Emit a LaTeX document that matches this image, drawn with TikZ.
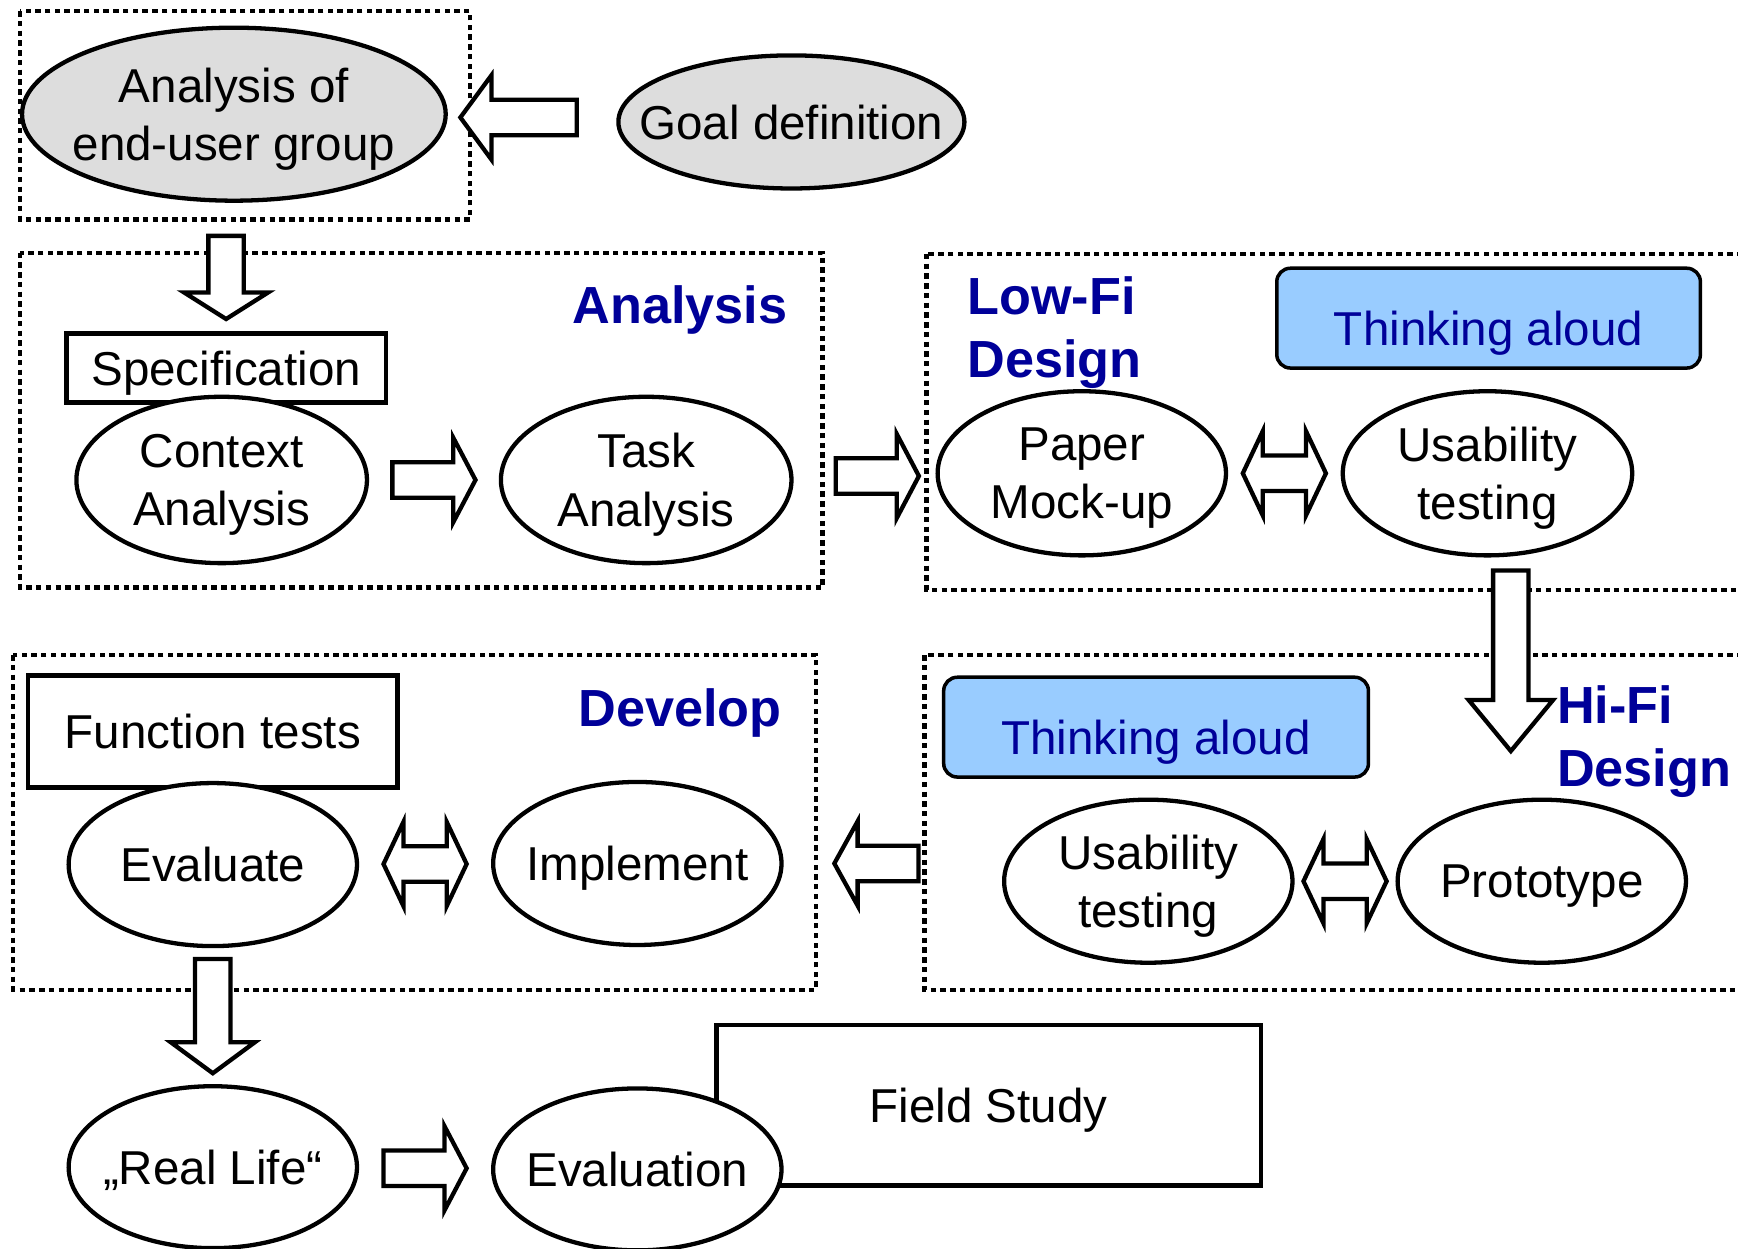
\documentclass[tikz,border=0pt]{standalone}
\usepackage{fontspec}
\setmainfont{Liberation Sans}
\usetikzlibrary{calc,shapes.geometric}

\definecolor{labelblue}{RGB}{0,0,153}
\definecolor{thinkblue}{RGB}{153,204,255}
\definecolor{ellgray}{RGB}{221,221,221}

\tikzset{
  pics/blockarrow/.style 2 args={code={
    \draw[arrowline] (-#1/2,-16) -- (#1/2-#2,-16) -- (#1/2-#2,-38) -- (#1/2,0)
      -- (#1/2-#2,38) -- (#1/2-#2,16) -- (-#1/2,16) -- cycle;
  }},
  pics/dblarrow/.style 2 args={code={
    \draw[arrowline] (-#1/2+#2,-16) -- (#1/2-#2,-16) -- (#1/2-#2,-38) -- (#1/2,0)
      -- (#1/2-#2,38) -- (#1/2-#2,16) -- (-#1/2+#2,16) -- (-#1/2+#2,38)
      -- (-#1/2,0) -- (-#1/2+#2,-38) -- cycle;
  }},
}

\begin{document}
\begin{tikzpicture}[x=0.01cm, y=-0.01cm,
  txt/.style={font=\fontsize{12.2}{15}\selectfont, align=center, text depth=0pt},
  ell/.style={ellipse, draw, line width=1.1pt, fill=white, inner sep=0pt},
  grayell/.style={ell, fill=ellgray},
  textbox/.style={rectangle, draw, line width=1.1pt, fill=white, inner sep=0pt, txt},
  thinkbox/.style={rectangle, rounded corners=3.5pt, draw, line width=0.9pt, fill=thinkblue,
    text=labelblue, txt, text height=14pt, text depth=0pt},
  phaselabel/.style={font=\fontsize{13.4}{16.2}\selectfont\bfseries, text=labelblue, align=left, inner sep=0pt},
  groupline/.style={line width=1.1pt, dash pattern=on 1.4pt off 1.1pt},
  arrowline/.style={draw, fill=white, line width=1.1pt, line join=miter},
]
\useasboundingbox (0,0) rectangle (1568,1126);

% phase boxes
\draw[groupline] (18,10) rectangle (424,198);
\draw[groupline] (18,228) rectangle (742,530);
\draw[groupline] (836,229) rectangle (1600,532);
\draw[groupline] (12,591) rectangle (736,893);
\draw[groupline] (834,591) rectangle (1600,893);

% phase names
\node[phaselabel, anchor=base east] (analysis) at (711,292) {Analysis};
\node[phaselabel, anchor=west] (lowfi) at (872,300) {Low-Fi\\Design};
\node[phaselabel, anchor=base east] (develop) at (706,655) {Develop};
\node[phaselabel, anchor=west] (hifi) at (1404,669) {Hi-Fi\\Design};

% rectangles
\node[textbox, minimum width=2.88cm, minimum height=0.62cm] (spec) at (204,332) {Specification};
\node[textbox, minimum width=3.33cm, minimum height=1.01cm] (func) at (192,660) {Function tests};
\node[textbox, minimum width=4.91cm, minimum height=1.45cm] (field) at (892,997) {Field Study};
\node[thinkbox, minimum width=3.82cm, minimum height=0.9cm] (think1) at (1343,287) {Thinking aloud};
\node[thinkbox, minimum width=3.83cm, minimum height=0.9cm] (think2) at (1043,656) {Thinking aloud};

% top
\node[grayell, minimum width=3.82cm, minimum height=1.56cm,
  label={[txt]center:Analysis of\\end-user group}] (enduser) at (211,103) {};
\node[grayell, minimum width=3.12cm, minimum height=1.2cm,
  label={[txt]center:Goal definition}] (goal) at (714,110) {};

% analysis
\node[ell, minimum width=2.62cm, minimum height=1.5cm,
  label={[txt]center:Context\\Analysis}] (ctx) at (200,433) {};
\node[ell, minimum width=2.62cm, minimum height=1.5cm,
  label={[txt]center:Task\\Analysis}] (task) at (583,433) {};

% low-fi
\node[ell, minimum width=2.6cm, minimum height=1.48cm,
  label={[txt]center:Paper\\Mock-up}] (paper) at (976,427) {};
\node[ell, minimum width=2.61cm, minimum height=1.48cm,
  label={[txt]center:Usability\\testing}] (usab1) at (1342,427) {};

% develop
\node[ell, minimum width=2.6cm, minimum height=1.47cm,
  label={[txt]center:Evaluate}] (evalu) at (192,780) {};
\node[ell, minimum width=2.6cm, minimum height=1.47cm,
  label={[txt]center:Implement}] (impl) at (575,779) {};

% hi-fi
\node[ell, minimum width=2.6cm, minimum height=1.47cm,
  label={[txt]center:Usability\\testing}] (usab2) at (1036,795) {};
\node[ell, minimum width=2.6cm, minimum height=1.47cm,
  label={[txt]center:Prototype}] (proto) at (1391,795) {};

% field
\node[ell, minimum width=2.6cm, minimum height=1.46cm,
  label={[txt]center:„Real Life“}] (real) at (192,1053) {};
\node[ell, minimum width=2.6cm, minimum height=1.46cm,
  label={[txt]center:Evaluation}] (evaln) at (575,1055) {};

% arrows
\pic[rotate=180] at ($(enduser.east)!0.42!(goal.west)$) {blockarrow={105}{28}};
\pic[rotate=-90] at ($(enduser.south -| spec.north)!0.58!(spec.north)$) {blockarrow={75}{24}};
\pic at ($(ctx.east)!0.5!(task.west)$) {blockarrow={75}{20}};
\pic at ($(task.east)!0.59!(paper.west)$) {blockarrow={75}{20}};
\pic at ($(paper.east)!0.5!(usab1.west)$) {dblarrow={75}{18}};
\pic[rotate=-90] at ($(usab1.south)!0.43!(proto.north)$) {blockarrow={163}{46}};
\pic[rotate=180] at ($(impl.east)!0.425!(usab2.west |- impl.east)$) {blockarrow={76}{21}};
\pic at ($(evalu.east)!0.5!(impl.west)$) {dblarrow={75}{18}};
\pic at ($(usab2.east)!0.5!(proto.west)$) {dblarrow={75}{18}};
\pic[rotate=-90] at ($(evalu.south)!0.5!(real.north)$) {blockarrow={103}{28}};
\pic at ($(real.east)!0.5!(evaln.west)$) {blockarrow={75}{20}};

\end{tikzpicture}
\end{document}
